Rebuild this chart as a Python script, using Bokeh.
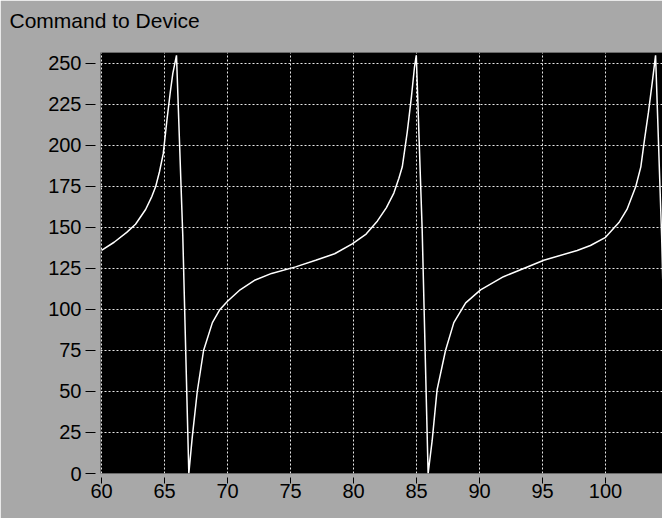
from bokeh.plotting import figure
from bokeh.models import FixedTicker, Range1d, Title, LinearAxis
from bokeh.embed import file_html
from bokeh.resources import INLINE

title_text = "Command to Device"

x_vals = [60.0, 61.0, 62.0, 62.7, 63.5, 64.0, 64.3, 64.6, 64.9, 65.2, 65.45, 65.66, 65.95,
          66.45, 66.93, 67.2, 67.6, 68.1, 68.8, 69.4, 70.0, 71.0, 72.2, 73.5, 75.4, 77.0,
          78.5, 79.9, 81.0, 81.9, 82.6, 83.2, 83.6, 83.87, 84.26, 84.6, 84.84, 84.98,
          85.45, 85.92, 86.24, 86.63, 87.3, 87.96, 88.9, 90.08, 91.9, 93.5, 95.1, 97.75,
          98.8, 100.0, 101.06, 101.7, 102.4, 102.8, 103.1, 103.4, 103.7, 103.97, 104.45, 104.93]
y_vals = [136, 141, 147, 152, 161, 169, 175, 184, 195, 216, 232, 244, 255,
          145, 0, 22, 50, 75, 92, 100, 105, 112, 118, 122, 126, 130,
          134, 140, 146, 154, 162, 171, 180, 187, 208, 230, 248, 255,
          148, 0, 20, 51, 75, 92, 104, 112, 120, 125, 130, 136,
          139, 144, 153, 161, 175, 187, 204, 220, 238, 255, 145, 0]

x_ticks = [60, 65, 70, 75, 80, 85, 90, 95, 100, 105]
y_ticks = [0, 25, 50, 75, 100, 125, 150, 175, 200, 225, 250]

BG = "#a8a8a8"
W, H = 662, 518

p = figure(width=W, height=H, output_backend="svg", toolbar_location=None,
           x_range=Range1d(59.92, 104.52), y_range=Range1d(0, 256.7),
           min_border_left=100, min_border_right=0, min_border_top=0, min_border_bottom=45)

p.background_fill_color = "black"
p.border_fill_color = BG
p.outline_line_color = None

p.line(x_vals, y_vals, line_color="white", line_width=1.5)

for ax in (p.xaxis[0], p.yaxis[0]):
    ax.axis_line_color = None
    ax.major_tick_line_color = "black"
    ax.major_tick_line_width = 1
    ax.minor_tick_line_color = None
    ax.major_label_text_color = "black"
    ax.major_label_text_font = "Liberation Sans"
    ax.major_label_text_font_size = "20px"

p.xaxis[0].ticker = FixedTicker(ticks=x_ticks)
p.yaxis[0].ticker = FixedTicker(ticks=y_ticks)
p.xaxis[0].major_tick_in = -4
p.xaxis[0].major_tick_out = 10
p.xaxis[0].major_label_standoff = 0
p.yaxis[0].major_tick_in = -5
p.yaxis[0].major_tick_out = 15
p.yaxis[0].major_label_standoff = 4

p.xgrid.ticker = FixedTicker(ticks=x_ticks)
p.ygrid.ticker = FixedTicker(ticks=y_ticks)
for g in (p.xgrid[0], p.ygrid[0]):
    g.grid_line_color = "#e8e8e8"
    g.grid_line_dash = "2 2"
    g.grid_line_width = 1

# invisible spacer panel between the frame and the title
spacer = LinearAxis(ticker=FixedTicker(ticks=[80]), axis_line_color=None,
                    major_tick_line_color=None, minor_tick_line_color=None,
                    major_tick_in=0, major_tick_out=15, minor_tick_out=0,
                    major_label_standoff=0, major_label_text_color=None,
                    major_label_text_font_size="1px",
                    major_label_overrides={80: ""})
p.add_layout(spacer, "above")

title = Title(text=title_text, text_font="Liberation Sans", text_font_size="21px",
              text_font_style="normal", text_color="black", align="left",
              offset=-91, standoff=12)
p.add_layout(title, "above")

open("out.html", "w").write(file_html(p, INLINE))
